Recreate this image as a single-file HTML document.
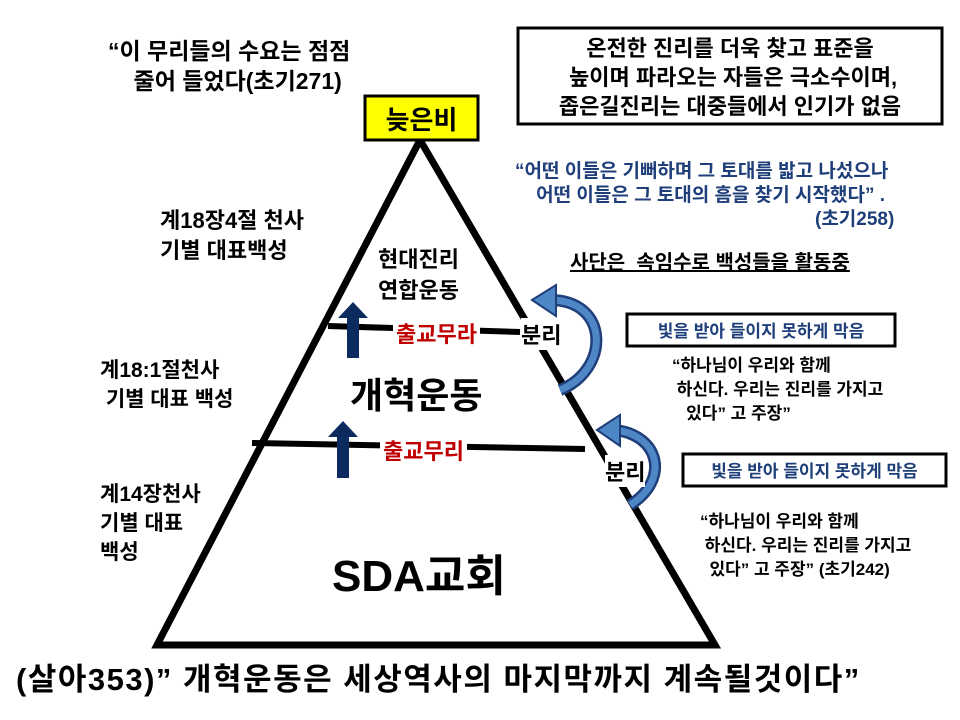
<!DOCTYPE html>
<html><head><meta charset="utf-8"><style>
body{margin:0;width:960px;height:720px;background:#fff;overflow:hidden;position:relative;font-family:"Liberation Sans","Noto Sans CJK KR",sans-serif;font-weight:bold}
.t{position:absolute;white-space:nowrap;color:#000}
</style></head><body>
<svg width="960" height="720" style="position:absolute;left:0;top:0">
<polygon points="420,140 157,645 715,645" fill="none" stroke="#000" stroke-width="7" stroke-linejoin="miter"/>
<line x1="328" y1="326" x2="520" y2="332" stroke="#000" stroke-width="6"/>
<line x1="252" y1="443" x2="585" y2="449" stroke="#000" stroke-width="6"/>
<rect x="365" y="96" width="113" height="44" fill="#ffff00" stroke="#000" stroke-width="3"/>
<rect x="518" y="28" width="424" height="96" fill="#fff" stroke="#000" stroke-width="3"/>
<rect x="627" y="314" width="268" height="32" fill="#fff" stroke="#000" stroke-width="3"/>
<rect x="683" y="454" width="263" height="32" fill="#fff" stroke="#000" stroke-width="3"/>
<polygon points="338,318 353,302 368,318 359,318 359,358 347,358 347,318" fill="#0b2a5e"/>
<polygon points="328,437 343,421 358,437 349,437 349,478 337,478 337,437" fill="#0b2a5e"/>
<path d="M560,390 C610,370 610,300 550,300" fill="none" stroke="#1f3f7a" stroke-width="12"/>
<path d="M560,390 C610,370 610,300 550,300" fill="none" stroke="#4f86c6" stroke-width="7"/>
<polygon points="532,300 556,285 556,316" fill="#4f86c6" stroke="#1f3f7a" stroke-width="2"/>
<path d="M630,505 C670,480 660,435 615,430" fill="none" stroke="#1f3f7a" stroke-width="12"/>
<path d="M630,505 C670,480 660,435 615,430" fill="none" stroke="#4f86c6" stroke-width="7"/>
<polygon points="597,430 620,415 620,446" fill="#4f86c6" stroke="#1f3f7a" stroke-width="2"/>
</svg>
<div class="t" style="left:108px;top:36px;font-size:23px;line-height:30px">“이 무리들의 수요는 점점<br>&nbsp;&nbsp;&nbsp;&nbsp;줄어 들었다(초기271)</div>
<div class="t" style="left:522px;top:34px;font-size:22px;line-height:29px;text-align:center;width:416px">온전한 진리를 더욱 찾고 표준을<br>&nbsp;높이며 파라오는 자들은 극소수이며,<br>좁은길진리는 대중들에서 인기가 없음</div>
<div class="t" style="left:365px;top:100px;width:113px;text-align:center;font-size:26px">늦은비</div>
<div class="t" style="left:515px;top:160px;font-size:19px;line-height:24px;color:#1f3f7a">“어떤 이들은 기뻐하며 그 토대를 밟고 나섰으나<br>&nbsp;&nbsp;&nbsp;&nbsp;어떤 이들은 그 토대의 흠을 찾기 시작했다” .<br><span style="padding-left:300px">(초기258)</span></div>
<div class="t" style="left:570px;top:246px;font-size:20px;text-decoration:underline">사단은&nbsp;&nbsp;속임수로 백성들을 활동중</div>
<div class="t" style="left:160px;top:206px;font-size:22px;line-height:30px">계18장4절 천사<br>기별 대표백성</div>
<div class="t" style="left:378px;top:244px;font-size:22px;line-height:31px">현대진리<br>연합운동</div>
<div class="t" style="left:393px;top:317px;font-size:22px;color:#c00000;background:#fff;padding:0 3px">출교무라</div>
<div class="t" style="left:521px;top:318px;font-size:22px;background:#fff">분리</div>
<div class="t" style="left:627px;top:317px;width:268px;text-align:center;font-size:17px;color:#1f3f7a">빛을 받아 들이지 못하게 막음</div>
<div class="t" style="left:672px;top:354px;font-size:17px;line-height:24px">“하나님이 우리와 함께<br>&nbsp;하신다. 우리는 진리를 가지고<br>&nbsp;&nbsp;&nbsp;있다” 고 주장”</div>
<div class="t" style="left:100px;top:356px;font-size:21px;line-height:29px">계18:1절천사<br>&nbsp;기별 대표 백성</div>
<div class="t" style="left:350px;top:367px;font-size:36px">개혁운동</div>
<div class="t" style="left:380px;top:434px;font-size:22px;color:#c00000;background:#fff;padding:0 3px">출교무리</div>
<div class="t" style="left:605px;top:455px;font-size:22px;background:#fff">분리</div>
<div class="t" style="left:683px;top:457px;width:263px;text-align:center;font-size:17px;color:#1f3f7a">빛을 받아 들이지 못하게 막음</div>
<div class="t" style="left:700px;top:510px;font-size:17px;line-height:24px">“하나님이 우리와 함께<br>&nbsp;하신다. 우리는 진리를 가지고<br>&nbsp;&nbsp;있다” 고 주장” (초기242)</div>
<div class="t" style="left:100px;top:480px;font-size:21px;line-height:29px">계14장천사<br>기별 대표<br>백성</div>
<div class="t" style="left:332px;top:540px;font-size:44px">SDA교회</div>
<div class="t" style="left:16px;top:654px;font-size:31px;letter-spacing:1.5px">(살아353)” 개혁운동은 세상역사의 마지막까지 계속될것이다”</div>
</body></html>
